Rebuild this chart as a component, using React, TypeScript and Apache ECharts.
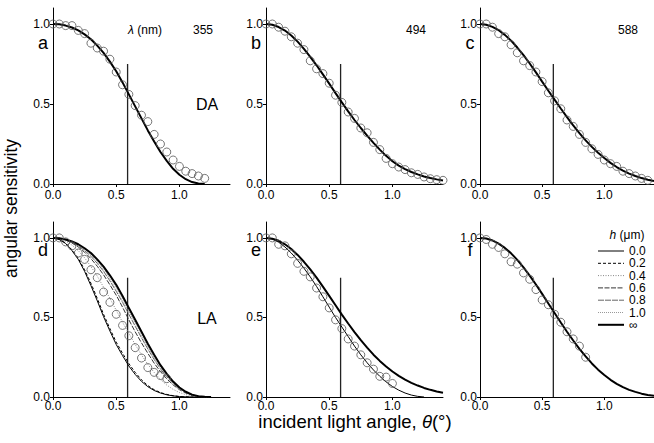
import React, { useEffect, useRef } from "react";
import * as echarts from "echarts";

const FONT = "'Liberation Sans', Arial, Helvetica, sans-serif";

// x positions of the model curves (deg)
const curveX = [0, 0.05, 0.1, 0.15, 0.2, 0.25, 0.3, 0.35, 0.4, 0.45, 0.5, 0.55, 0.6, 0.65, 0.7, 0.75, 0.8, 0.85, 0.9, 0.95, 1.0, 1.05, 1.1, 1.15, 1.2, 1.25, 1.3, 1.35, 1.4];

// Top row (DA) model curves
const curveA = [1, 0.998, 0.99, 0.978, 0.96, 0.935, 0.905, 0.865, 0.82, 0.765, 0.705, 0.635, 0.56, 0.485, 0.41, 0.335, 0.265, 0.2, 0.145, 0.095, 0.058, 0.03, 0.012, 0.003, 0];
const curveB = [1, 0.995, 0.981, 0.959, 0.928, 0.89, 0.845, 0.795, 0.742, 0.685, 0.627, 0.568, 0.51, 0.454, 0.4, 0.35, 0.302, 0.257, 0.215, 0.176, 0.142, 0.115, 0.093, 0.075, 0.06, 0.047, 0.037, 0.029, 0.022];
const curveC = [1, 0.995, 0.982, 0.961, 0.932, 0.896, 0.853, 0.805, 0.753, 0.698, 0.64, 0.583, 0.527, 0.472, 0.418, 0.367, 0.318, 0.273, 0.232, 0.195, 0.162, 0.132, 0.106, 0.084, 0.065, 0.05, 0.037, 0.027, 0.019];

// Bottom row (LA) model curves, by h (um)
const dH00 = [1, 0.99, 0.965, 0.92, 0.865, 0.79, 0.7, 0.605, 0.505, 0.415, 0.33, 0.26, 0.195, 0.142, 0.098, 0.065, 0.041, 0.025, 0.014, 0.007, 0.003, 0.001, 0, 0, 0, 0];
const dH02 = [1, 0.99, 0.968, 0.925, 0.872, 0.8, 0.715, 0.62, 0.52, 0.43, 0.345, 0.275, 0.21, 0.155, 0.108, 0.072, 0.046, 0.028, 0.016, 0.008, 0.003, 0.001, 0, 0, 0, 0];
const dH04 = [1, 0.995, 0.98, 0.955, 0.92, 0.875, 0.82, 0.76, 0.69, 0.62, 0.545, 0.47, 0.4, 0.33, 0.265, 0.205, 0.155, 0.11, 0.075, 0.048, 0.028, 0.015, 0.007, 0.002, 0, 0];
const dH06 = [1, 0.997, 0.986, 0.968, 0.943, 0.91, 0.87, 0.822, 0.768, 0.705, 0.64, 0.565, 0.485, 0.41, 0.34, 0.275, 0.213, 0.16, 0.114, 0.076, 0.046, 0.025, 0.011, 0.004, 0.001, 0];
const dH08 = [1, 0.997, 0.988, 0.972, 0.95, 0.92, 0.885, 0.84, 0.79, 0.73, 0.665, 0.595, 0.52, 0.445, 0.372, 0.302, 0.236, 0.177, 0.127, 0.085, 0.052, 0.028, 0.012, 0.004, 0.001, 0];
const dH10 = [1, 0.998, 0.989, 0.975, 0.955, 0.928, 0.895, 0.852, 0.804, 0.747, 0.685, 0.614, 0.54, 0.465, 0.39, 0.318, 0.25, 0.188, 0.135, 0.09, 0.055, 0.03, 0.013, 0.004, 0.001, 0];
const dHInf = [1, 0.998, 0.99, 0.978, 0.96, 0.935, 0.905, 0.865, 0.82, 0.765, 0.705, 0.635, 0.56, 0.485, 0.41, 0.335, 0.265, 0.2, 0.145, 0.097, 0.06, 0.033, 0.015, 0.005, 0.001, 0];
const eH00 = [1, 0.993, 0.973, 0.943, 0.905, 0.86, 0.81, 0.755, 0.695, 0.63, 0.565, 0.5, 0.44, 0.38, 0.32, 0.265, 0.215, 0.17, 0.13, 0.095, 0.066, 0.043, 0.025, 0.012, 0.004, 0];
const eHInf = [1, 0.995, 0.982, 0.96, 0.93, 0.893, 0.85, 0.802, 0.75, 0.694, 0.636, 0.577, 0.518, 0.462, 0.408, 0.357, 0.31, 0.266, 0.227, 0.192, 0.16, 0.133, 0.109, 0.089, 0.072, 0.057, 0.045, 0.035, 0.027];
const fHInf = [1, 0.996, 0.984, 0.964, 0.937, 0.903, 0.862, 0.815, 0.763, 0.707, 0.648, 0.588, 0.528, 0.468, 0.41, 0.355, 0.303, 0.255, 0.211, 0.172, 0.138, 0.108, 0.083, 0.062, 0.045, 0.032, 0.021, 0.013, 0.007];

// Measured data (open circles): [angle, sensitivity]
const ptsA = [[0, 1.0], [0.05, 1.0], [0.1, 0.99], [0.15, 0.99], [0.2, 0.96], [0.25, 0.94], [0.3, 0.88], [0.35, 0.85], [0.4, 0.83], [0.45, 0.78], [0.5, 0.7], [0.55, 0.62], [0.6, 0.56], [0.65, 0.49], [0.7, 0.43], [0.75, 0.39], [0.8, 0.31], [0.85, 0.25], [0.9, 0.2], [0.95, 0.15], [1.0, 0.11], [1.05, 0.08], [1.1, 0.065], [1.15, 0.05], [1.2, 0.035]];
const ptsB = [[0, 1.0], [0.05, 1.0], [0.1, 0.98], [0.15, 0.955], [0.2, 0.92], [0.25, 0.88], [0.3, 0.84], [0.35, 0.77], [0.4, 0.72], [0.45, 0.69], [0.5, 0.63], [0.55, 0.555], [0.6, 0.51], [0.65, 0.45], [0.7, 0.41], [0.75, 0.35], [0.8, 0.32], [0.85, 0.26], [0.9, 0.215], [0.95, 0.16], [1.0, 0.127], [1.05, 0.106], [1.1, 0.09], [1.15, 0.07], [1.2, 0.06], [1.25, 0.044], [1.3, 0.033], [1.35, 0.027], [1.4, 0.023]];
const ptsC = [[0, 1.0], [0.05, 1.0], [0.1, 0.98], [0.15, 0.94], [0.2, 0.92], [0.25, 0.87], [0.3, 0.82], [0.35, 0.77], [0.4, 0.74], [0.45, 0.7], [0.5, 0.64], [0.55, 0.57], [0.6, 0.52], [0.65, 0.47], [0.7, 0.4], [0.75, 0.36], [0.8, 0.31], [0.85, 0.26], [0.9, 0.22], [0.95, 0.185], [1.0, 0.15], [1.05, 0.127], [1.1, 0.11], [1.15, 0.08], [1.2, 0.065], [1.25, 0.05], [1.3, 0.035], [1.35, 0.023]];
const ptsD = [[0, 1.0], [0.05, 1.0], [0.1, 0.975], [0.15, 0.95], [0.2, 0.905], [0.25, 0.865], [0.3, 0.8], [0.35, 0.75], [0.4, 0.66], [0.45, 0.595], [0.5, 0.52], [0.55, 0.45], [0.6, 0.385], [0.65, 0.31], [0.7, 0.245], [0.75, 0.185], [0.8, 0.155], [0.85, 0.135], [0.9, 0.115]];
const ptsE = [[0, 1.0], [0.05, 1.0], [0.1, 0.96], [0.15, 0.95], [0.2, 0.9], [0.25, 0.84], [0.3, 0.79], [0.35, 0.755], [0.4, 0.685], [0.45, 0.63], [0.5, 0.56], [0.55, 0.485], [0.6, 0.43], [0.65, 0.365], [0.7, 0.32], [0.75, 0.265], [0.8, 0.215], [0.85, 0.175], [0.9, 0.13], [0.95, 0.125], [1.0, 0.085]];
const ptsF = [[0, 1.0], [0.05, 0.99], [0.1, 0.96], [0.15, 0.94], [0.2, 0.9], [0.25, 0.85], [0.3, 0.835], [0.35, 0.78], [0.4, 0.74], [0.45, 0.675], [0.5, 0.61], [0.55, 0.58], [0.6, 0.52], [0.65, 0.47], [0.7, 0.41], [0.75, 0.365], [0.8, 0.32], [0.85, 0.25]];

// Acceptance-angle marker line
const vLineX = 0.59;
const vLineTop = 0.75;

const panelLetters = ["a", "b", "c", "d", "e", "f"];
const wavelengths = ["355", "494", "588"];
const rowLabels = ["DA", "LA"];
const hNames = ["0.0", "0.2", "0.4", "0.6", "0.8", "1.0", "∞"];
const xTicks = [0, 0.5, 1.0];
const yTicks = [0, 0.5, 1.0];

const zip = (xs: number[], ys: number[]) => ys.map((y, i) => [xs[i], y]);

const gridLefts = [53, 266, 480];
const gridTops = [8, 222];
const gridW = 177;
const gridH = [176, 175];
const xLabelMargin = [5.5, 3.5];

const styles: Record<string, any> = {
  "0.0": { width: 1, color: "#000", type: "solid" },
  "0.2": { width: 1, color: "#000", type: [3, 2] },
  "0.4": { width: 1, color: "#888", type: [1, 1.5] },
  "0.6": { width: 1, color: "#333", type: [5, 1.5] },
  "0.8": { width: 1, color: "#666", type: [6, 1] },
  "1.0": { width: 1.2, color: "#999", type: [1, 1] },
  "∞": { width: 2, color: "#000", type: "solid" },
};

function lineS(name: string, grid: number, ys: number[], ls: any) {
  return {
    name,
    type: "line",
    xAxisIndex: grid,
    yAxisIndex: grid,
    data: zip(curveX, ys),
    symbol: "none",
    showSymbol: false,
    silent: true,
    itemStyle: { color: ls.color },
    lineStyle: { ...ls },
    z: 3,
  };
}

function dots(grid: number, pts: number[][]) {
  return {
    name: "data" + grid,
    type: "scatter",
    xAxisIndex: grid,
    yAxisIndex: grid,
    data: pts,
    symbol: "circle",
    symbolSize: 8,
    silent: true,
    itemStyle: { color: "rgba(0,0,0,0)", borderColor: "#555", borderWidth: 1 },
    z: 4,
  };
}

function vline(grid: number) {
  return {
    name: "acc" + grid,
    type: "line",
    xAxisIndex: grid,
    yAxisIndex: grid,
    data: [[vLineX, 0], [vLineX, vLineTop]],
    symbol: "none",
    silent: true,
    lineStyle: { color: "#222", width: 1.3 },
    z: 2,
  };
}

export default function App() {
  const ref = useRef<HTMLDivElement>(null);
  useEffect(() => {
    if (!ref.current) return;
    const chart = echarts.init(ref.current, undefined, { renderer: "svg" });
    const grids: any[] = [];
    const xAxes: any[] = [];
    const yAxes: any[] = [];
    for (let r = 0; r < 2; r++) {
      for (let c = 0; c < 3; c++) {
        const gi = r * 3 + c;
        grids.push({ left: gridLefts[c], top: gridTops[r], width: gridW, height: gridH[r], containLabel: false });
        xAxes.push({
          gridIndex: gi,
          type: "value",
          min: 0,
          max: 1.4,
          axisLine: { show: true, onZero: false, lineStyle: { color: "#000", width: 1 } },
          axisTick: { show: true, customValues: xTicks, length: 3, lineStyle: { color: "#000" } },
          axisLabel: { customValues: xTicks, formatter: (v: number) => v.toFixed(1), fontSize: 12, lineHeight: 10, color: "#000", margin: xLabelMargin[r], fontFamily: FONT },
          splitLine: { show: false },
        });
        yAxes.push({
          gridIndex: gi,
          type: "value",
          min: 0,
          max: 1.1,
          axisLine: { show: true, onZero: false, lineStyle: { color: "#000", width: 1 } },
          axisTick: { show: true, customValues: yTicks, length: 3, lineStyle: { color: "#000" } },
          axisLabel: { customValues: yTicks, formatter: (v: number) => v.toFixed(1), fontSize: 12, lineHeight: 10, color: "#000", margin: 3, fontFamily: FONT },
          splitLine: { show: false },
        });
      }
    }

    const series: any[] = [
      lineS("fitA", 0, curveA, styles["∞"]),
      lineS("fitB", 1, curveB, styles["∞"]),
      lineS("fitC", 2, curveC, styles["∞"]),
      lineS("0.0", 3, dH00, styles["0.0"]),
      lineS("0.2", 3, dH02, styles["0.2"]),
      lineS("0.4", 3, dH04, styles["0.4"]),
      lineS("0.6", 3, dH06, styles["0.6"]),
      lineS("0.8", 3, dH08, styles["0.8"]),
      lineS("1.0", 3, dH10, styles["1.0"]),
      lineS("∞", 3, dHInf, styles["∞"]),
      lineS("e0.0", 4, eH00, styles["0.0"]),
      lineS("e∞", 4, eHInf, styles["∞"]),
      lineS("f∞", 5, fHInf, styles["∞"]),
      dots(0, ptsA),
      dots(1, ptsB),
      dots(2, ptsC),
      dots(3, ptsD),
      dots(4, ptsE),
      dots(5, ptsF),
    ];
    for (let g = 0; g < 6; g++) series.push(vline(g));

    const letterX = [43, 256, 470];
    const letterY = [43, 249.5];
    const graphic: any[] = [];
    panelLetters.forEach((l, i) => {
      graphic.push({
        type: "text",
        x: letterX[i % 3],
        y: letterY[Math.floor(i / 3)],
        style: { text: l, fontSize: 18, lineHeight: 12, fontFamily: FONT, fill: "#000", align: "center", verticalAlign: "middle" },
      });
    });
    graphic.push({
      type: "text",
      x: 145,
      y: 30,
      style: {
        text: "{i|λ} (nm)",
        fontSize: 12,
        fontFamily: FONT,
        fill: "#000",
        align: "center",
        verticalAlign: "middle",
        rich: { i: { fontStyle: "italic", fontSize: 12, fontFamily: FONT } },
      },
    });
    const wlX = [203, 416, 628];
    wavelengths.forEach((w, i) => {
      graphic.push({
        type: "text",
        x: wlX[i],
        y: 30,
        style: { text: w, fontSize: 12, fontFamily: FONT, fill: "#000", align: "center", verticalAlign: "middle" },
      });
    });
    const rowY = [104, 318];
    rowLabels.forEach((t, i) => {
      graphic.push({
        type: "text",
        x: 207,
        y: rowY[i],
        style: { text: t, fontSize: 16, fontFamily: FONT, fill: "#000", align: "center", verticalAlign: "middle" },
      });
    });
    graphic.push({
      type: "text",
      x: 627,
      y: 235,
      style: {
        text: "{i|h} (μm)",
        fontSize: 12,
        fontFamily: FONT,
        fill: "#000",
        align: "center",
        verticalAlign: "middle",
        rich: { i: { fontStyle: "italic", fontSize: 12, fontFamily: FONT } },
      },
    });
    graphic.push({
      type: "text",
      x: 11,
      y: 208.5,
      rotation: Math.PI / 2,
      style: { text: "angular sensitivity", fontSize: 17.5, fontFamily: FONT, fill: "#000", align: "center", verticalAlign: "middle" },
    });
    graphic.push({
      type: "text",
      x: 355,
      y: 421,
      style: {
        text: "incident light angle, {i|θ}(°)",
        fontSize: 18.5,
        lineHeight: 16,
        fontFamily: FONT,
        fill: "#000",
        align: "center",
        verticalAlign: "middle",
        rich: { i: { fontStyle: "italic", fontSize: 18.5, lineHeight: 16, fontFamily: FONT } },
      },
    });

    chart.setOption({
      animation: false,
      backgroundColor: "#fff",
      textStyle: { fontFamily: FONT },
      grid: grids,
      xAxis: xAxes,
      yAxis: yAxes,
      legend: {
        data: hNames.map((n) => ({
          name: n,
          itemStyle: { opacity: 0, color: "rgba(0,0,0,0)", borderWidth: 0 },
          lineStyle: { ...styles[n] },
        })),
        orient: "vertical",
        left: 597,
        top: 245,
        padding: 0,
        itemWidth: 26,
        itemHeight: 10,
        itemGap: 0.3,
        selectedMode: false,
        itemStyle: { opacity: 0, color: "rgba(0,0,0,0)", borderWidth: 0 },
        textStyle: { fontSize: 12, color: "#000", fontFamily: FONT },
      },
      series,
      graphic,
    });
    return () => chart.dispose();
  }, []);
  return <div ref={ref} style={{ position: "fixed", left: 0, top: 0, width: 654, height: 443, background: "#fff" }} />;
}
